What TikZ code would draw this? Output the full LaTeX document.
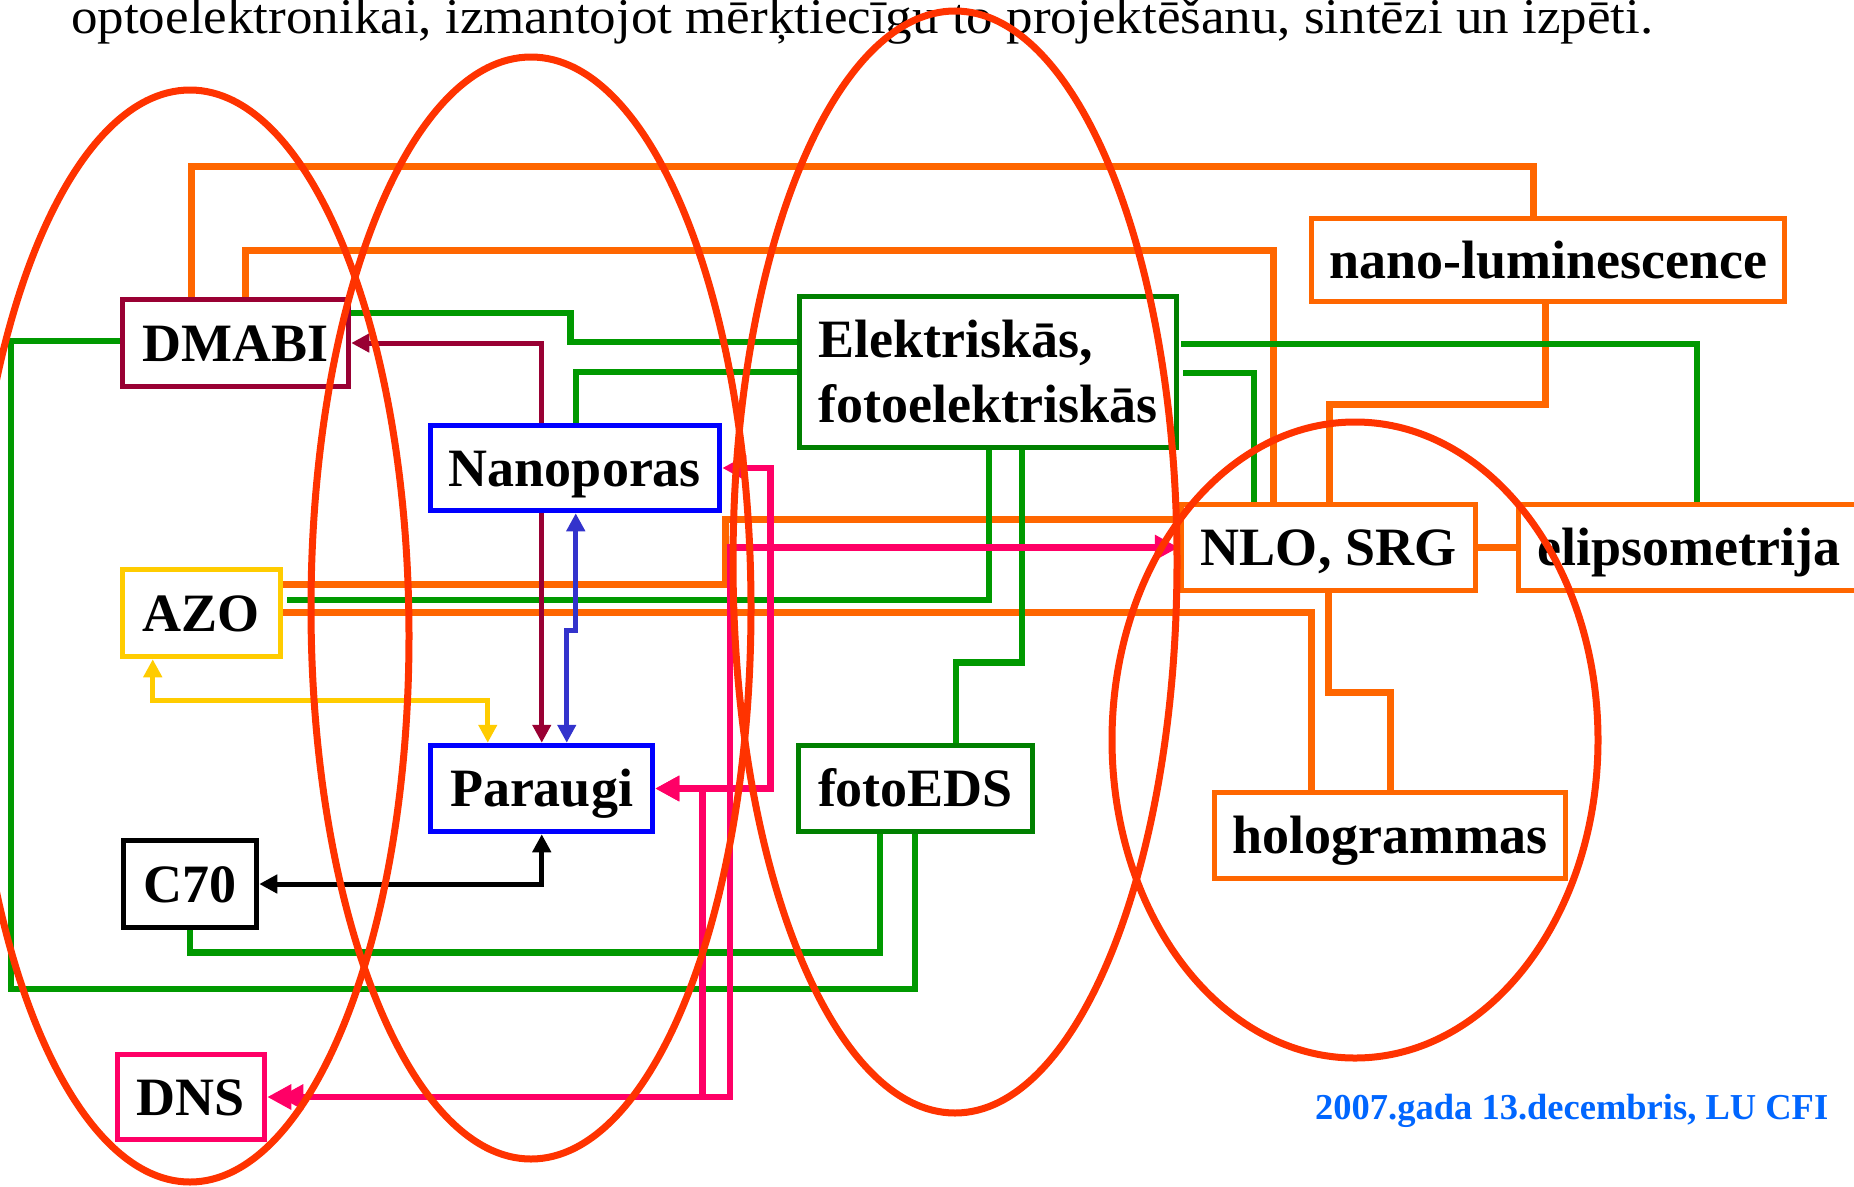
\documentclass[tikz,border=0pt]{standalone}
\usepackage{fontspec}
\usepackage{graphicx}
\setmainfont{Liberation Serif}
\usetikzlibrary{arrows.meta,calc}
\pgfdeclarelayer{bg}
\pgfsetlayers{bg,main}
\definecolor{orng}{HTML}{FF6600}
\definecolor{grn}{HTML}{009900}
\definecolor{grnbox}{HTML}{008000}
\definecolor{mar}{HTML}{990033}
\definecolor{blu}{HTML}{0000FF}
\definecolor{bluarr}{HTML}{3333CC}
\definecolor{yel}{HTML}{FFCC00}
\definecolor{pnk}{HTML}{FF0066}
\definecolor{ellc}{HTML}{FF3300}
\definecolor{foot}{HTML}{0066FF}
\begin{document}
\begin{tikzpicture}[x=1pt,y=-1pt,
  boxbase/.style={draw, line width=5.5pt, fill=white, inner sep=0pt,
    font=\fontsize{54}{65}\selectfont\bfseries},
  box/.style={boxbase, text height=36pt, text depth=0pt},
  oline/.style={draw=orng, line width=7pt},
  gline/.style={draw=grn, line width=6.5pt},
  sarr/.style={line width=5pt, >={Triangle[width=18pt,length=18pt]}},
  parr/.style={draw=pnk, line width=6.5pt, >={Triangle[width=24pt,length=24pt]}},
  ell/.style={draw=ellc, line width=7pt}]
\useasboundingbox (0,0) rectangle (1854,1186);
\clip (0,0) rectangle (1854,1186);
\begin{pgfonlayer}{bg}
\fill[white] (0,0) rectangle (1854,1186);
\end{pgfonlayer}

% header and footer
\node[anchor=base west, inner sep=0pt] (head) at (71,33)
  {\resizebox{1582pt}{\height}{\fontsize{50}{60}\selectfont optoelektronikai, izmantojot mērķtiecīgu to projektēšanu, sintēzi un izpēti.}};
\node[anchor=base west, inner sep=0pt, text=foot, font=\fontsize{36.5}{44}\selectfont\bfseries] (date) at (1315,1119) {2007.gada 13.decembris, LU CFI};

% boxes
\node[box, draw=mar, minimum width=226pt, minimum height=87pt] (dmabi) at (235.5,343) {DMABI};
\node[box, draw=blu, minimum width=289pt, minimum height=85pt] (nano) at (575,468) {Nanoporas};
\node[box, draw=yel, minimum width=158pt, minimum height=87pt] (azo) at (201.5,613) {AZO};
\node[box, draw=blu, minimum width=222pt, minimum height=86pt] (par) at (541.5,788.5) {Paraugi};
\node[box, draw=black, minimum width=133pt, minimum height=87pt] (c70) at (190,884) {C70};
\node[box, draw=pnk, minimum width=147pt, minimum height=85pt] (dns) at (191,1097) {DNS};
\node[boxbase, draw=grnbox, minimum width=377pt, minimum height=151pt, align=left] (elek) at (988,372) {Elektriskās,\\fotoelektriskās};
\node[box, draw=grnbox, minimum width=234pt, minimum height=86pt] (eds) at (915.5,788.5) {fotoEDS};
\node[box, draw=orng, minimum width=473pt, minimum height=83pt] (nlum) at (1548,260) {nano-luminescence};
\node[box, draw=orng, minimum width=294pt, minimum height=86pt] (nlo) at (1328.5,547.5) {NLO, SRG};
\node[box, draw=orng, minimum width=341pt, minimum height=86pt] (elip) at (1689,547.5) {elipsometrija};
\node[box, draw=orng, minimum width=351pt, minimum height=86pt] (holo) at (1390,835.5) {hologrammas};

\begin{pgfonlayer}{bg}
% orange connectors
\draw[oline] ($(dmabi.north west)+(72,0)$) -- ++(0,-130) -| ($(nlum.north west)+(225,0)$);
\draw[oline] ($(dmabi.north west)+(126,0)$) -- ++(0,-46) -| ($(nlo.north west)+(95,0)$);
\draw[oline] ($(azo.north east)+(-6,18)$) -- ++(448,0) |- ($(nlo.north west)+(0,18)$);
\draw[oline] ($(azo.north east)+(0,46)$) -| ($(holo.north west)+(100,0)$);
\draw[oline] ($(nlum.south west)+(237,0)$) -- ++(0,100) -| ($(nlo.north west)+(151,0)$);
\draw[oline] ($(nlo.south west)+(150,0)$) -- ++(0,99) -| ($(holo.north west)+(179,0)$);
\draw[oline] (nlo.east) -- (elip.west);
% green connectors
\draw[gline] ($(dmabi.north east)+(0,16)$) -- ++(219,0) |- ($(elek.north west)+(0,48)$);
\draw[gline] ($(elek.north west)+(0,78)$) -| ($(nano.north west)+(148,0)$);
\draw[gline] ($(dmabi.north west)+(0,44)$) -- ++(-109,0) -- ++(0,648) -| ($(eds.south west)+(119,0)$);
\draw[gline] (c70.south) -- ++(0,22) -| ($(eds.south west)+(84,0)$);
\draw[gline] ($(azo.north east)+(4,33)$) -| ($(elek.south west)+(192,0)$);
\draw[gline] ($(elek.south west)+(225,0)$) -- ++(0,212) -| ($(eds.north west)+(160,0)$);
\draw[gline] ($(elek.north east)+(2,50)$) -| ($(elip.north west)+(181,0)$);
\draw[gline] ($(elek.north east)+(4,79)$) -| ($(nlo.north west)+(75,0)$);
% thin arrows
\draw[sarr, draw=mar, <->] (dmabi.east) -| ($(par.north west)+(114,0)$);
\draw[sarr, draw=bluarr, <->] ($(nano.south west)+(148,0)$) -- ++(0,117) -| ($(par.north west)+(139,0)$);
\draw[sarr, draw=yel, <->] ($(azo.south west)+(33,0)$) -- ++(0,41) -| ($(par.north west)+(60,0)$);
\draw[sarr, draw=black, <->] (c70.east) -| ($(par.south west)+(114,0)$);
% pink arrows
\draw[parr, <->] (nano.east) -- ++(48,0) |- (par.east);
\draw[parr, <->] (par.east) -- ++(47,0) |- ($(dns.east)+(12,0)$);
\draw[parr, <->] (nlo.west) -- ++(-449,0) |- (dns.east);
\end{pgfonlayer}

% ellipses on top
\draw[ell] (190,636) ellipse [x radius=219pt, y radius=546pt];
\draw[ell] (531,608) ellipse [x radius=220pt, y radius=551pt];
\draw[ell] (955,562) ellipse [x radius=222pt, y radius=551pt];
\draw[ell] (1355,740) ellipse [x radius=243pt, y radius=318pt];
\end{tikzpicture}
\end{document}
